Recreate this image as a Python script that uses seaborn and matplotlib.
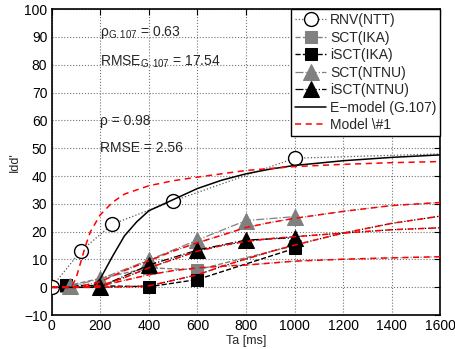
import matplotlib
matplotlib.use("Agg")
import matplotlib.pyplot as plt
import seaborn as sns
import numpy as np

# ---------------- data ----------------
rnv_x = [0, 120, 250, 500, 1000, 2000]
rnv_y = [0, 13, 22.7, 31, 46.4, 49]

sct_ika_x = [60, 400, 600, 1000]
sct_ika_y = [0.5, 7, 6.3, 15]

isct_ika_x = [60, 400, 600, 1000]
isct_ika_y = [0.8, 0.2, 2.8, 14]

sct_ntnu_x = [75, 200, 400, 600, 800, 1000]
sct_ntnu_y = [0.3, 3.0, 9.8, 17, 24, 25.4]

isct_ntnu_x = [200, 400, 600, 800, 1000]
isct_ntnu_y = [0.2, 8.0, 13.4, 17, 17.8]

emodel_x = [0, 170, 200, 250, 300, 350, 400, 500, 600, 700, 800, 900, 1000, 1200, 1400, 1600]
emodel_y = [0, 0, 3, 11, 18.5, 23.5, 27.5, 31.5, 35.5, 38.5, 40.8, 42.5, 43.8, 45.5, 46.7, 47.6]

m_rnv_x = [0, 80, 100, 120, 140, 160, 200, 250, 300, 400, 500, 600, 800, 1000, 1200, 1400, 1600]
m_rnv_y = [0, 0, 3, 9, 15, 20, 26, 30.5, 33.5, 36.5, 38.3, 39.6, 42, 43.4, 44.2, 44.8, 45.2]

m_x = [0, 100, 200, 300, 400, 500, 600, 700, 800, 900, 1000, 1200, 1400, 1600]
m_sct_ntnu_y = [0, 0, 2, 6, 9.5, 13, 16, 18.7, 21.5, 23.3, 24.8, 27.3, 29.4, 30.5]
m_isct_ntnu_y = [0, 0, 0.5, 3.5, 7, 10, 13, 15, 16.5, 17.5, 18.2, 19.5, 20.7, 21.4]
m_isct_ika_y = [0, 0, 0, 0.2, 0.5, 2.5, 4.5, 7.5, 10.2, 12.8, 15.2, 19.5, 23, 25.6]
m_sct_ika_y = [0, 0, 0.5, 2.5, 4.5, 6, 7, 7.6, 8, 8.7, 9.4, 10.1, 10.6, 11]

labels = ["RNV(NTT)", "SCT(IKA)", "iSCT(IKA)", "SCT(NTNU)", "iSCT(NTNU)",
          "E\u2212model (G.107)", "Model \\#1"]

# ---------------- style ----------------
sns.set_style("white")
plt.rcParams['font.family'] = ['Liberation Sans', 'DejaVu Sans']
plt.rcParams['mathtext.fontset'] = 'custom'
plt.rcParams['mathtext.rm'] = 'Liberation Sans'
plt.rcParams['mathtext.it'] = 'Liberation Sans:italic'

fig = plt.figure(figsize=(4.56, 3.49), dpi=100)
ax = fig.add_axes([0.113, 0.097, 0.853, 0.877])

gray = '#808080'

def line(x, y, **kw):
    sns.lineplot(x=x, y=y, ax=ax, sort=False, estimator=None, **kw)

# model underlays (dotted) to give dash-dot look
for yy, c in [(m_sct_ntnu_y, gray), (m_isct_ntnu_y, 'k'), (m_isct_ika_y, 'k'), (m_sct_ika_y, gray)]:
    line(m_x, yy, color=c, linestyle=':', linewidth=0.9, zorder=2)

line(rnv_x, rnv_y, color='0.35', linestyle=':', linewidth=0.9, marker='o',
     markersize=10, markerfacecolor='white', markeredgecolor='k',
     markeredgewidth=1.0, label=labels[0], zorder=4)
line(sct_ika_x, sct_ika_y, color=gray, linestyle='--', linewidth=1.0, marker='s',
     markersize=8, markerfacecolor=gray, markeredgecolor=gray, label=labels[1], zorder=4)
line(isct_ika_x, isct_ika_y, color='k', linestyle='--', linewidth=1.0, marker='s',
     markersize=8, markerfacecolor='k', markeredgecolor='k', label=labels[2], zorder=4)
line(sct_ntnu_x, sct_ntnu_y, color=gray, linestyle='-.', linewidth=0.9, marker='^',
     markersize=11, markerfacecolor=gray, markeredgecolor=gray, label=labels[3], zorder=4)
line(isct_ntnu_x, isct_ntnu_y, color='k', linestyle='-.', linewidth=0.9, marker='^',
     markersize=11, markerfacecolor='k', markeredgecolor='k', label=labels[4], zorder=4)

line(emodel_x, emodel_y, color='k', linestyle='-', linewidth=1.1, label=labels[5], zorder=5)

line(m_rnv_x, m_rnv_y, color='red', linestyle=(0, (4, 3)), linewidth=1.1, label=labels[6], zorder=5)
for yy in [m_sct_ntnu_y, m_isct_ntnu_y, m_isct_ika_y, m_sct_ika_y]:
    line(m_x, yy, color='red', linestyle=(0, (4, 3)), linewidth=1.1, zorder=5)

# ---------------- axes ----------------
ax.set_xlim(0, 1600)
ax.set_ylim(-10, 100)
ax.set_xticks(np.arange(0, 1601, 200))
ax.set_yticks(np.arange(-10, 101, 10))
ax.tick_params(direction='in', length=4, width=0.8, top=True, right=True,
               labelsize=10, colors='k', pad=3)
ax.grid(True, linestyle=':', color='0.45', linewidth=0.8)
for s in ax.spines.values():
    s.set_linewidth(1.2)
    s.set_color('k')
ax.set_xlabel("Ta [ms]", fontsize=9, labelpad=1)
ax.set_ylabel("Idd'", fontsize=9, labelpad=2)

ax.text(199, 91.5, "\u03c1$_{\\mathrm{G.107}}$ = 0.63", fontsize=10, va='center')
ax.text(199, 81.1, "RMSE$_{\\mathrm{G.107}}$ = 17.54", fontsize=10, va='center')
ax.text(199, 59.8, "\u03c1 = 0.98", fontsize=10, va='center')
ax.text(199, 50.1, "RMSE = 2.56", fontsize=10, va='center')

h, l = ax.get_legend_handles_labels()
order = [l.index(t) for t in labels]
leg = ax.legend([h[i] for i in order], [l[i] for i in order], loc='upper right',
                borderaxespad=0, fancybox=False, edgecolor='k', framealpha=1,
                fontsize=10, handlelength=2.2, handletextpad=0.3,
                labelspacing=0.25, borderpad=0.3)
leg.get_frame().set_linewidth(1.0)
leg.set_zorder(10)

fig.savefig("out.png", dpi=100)
